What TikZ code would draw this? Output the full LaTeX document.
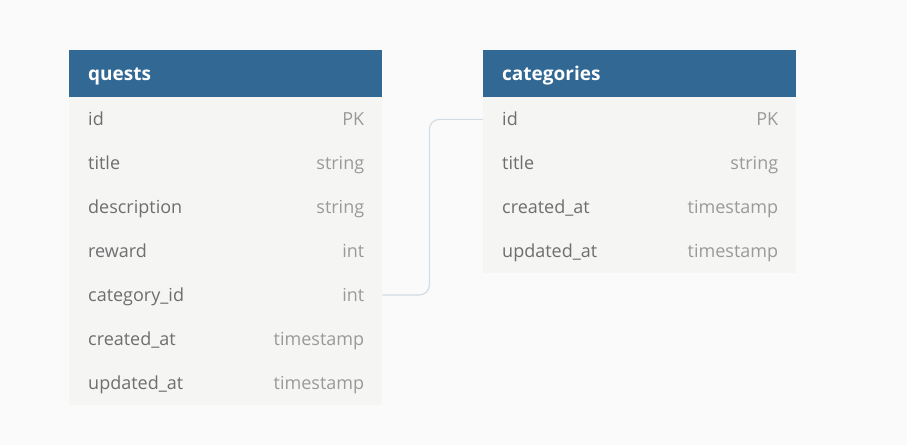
\documentclass[tikz,border=0pt]{standalone}
\usepackage{fontspec}
\setmainfont{Open Sans}
\usetikzlibrary{positioning}

\definecolor{headblue}{HTML}{316894}
\definecolor{bodygray}{HTML}{F5F5F3}
\definecolor{pagegray}{HTML}{FAFAFA}
\definecolor{namegray}{HTML}{6E6E70}
\definecolor{typegray}{HTML}{9A9A9A}
\definecolor{linkgray}{HTML}{D2DCE4}

\begin{document}
\begin{tikzpicture}[x=1pt,
    y=1pt,
    tblhead/.style = {
      fill = headblue,
      text = white,
      font = \bfseries\fontsize{19}{22}\selectfont,
      anchor = north west,
      minimum width = 313pt,
      minimum height = 47pt,
      text width = 275pt,
      text height = 16pt,
      text depth = 2pt,
      inner xsep = 19pt,
      inner ysep = 0pt,
      align = left
    },
    tblrow/.style = {
      minimum width = 313pt,
      minimum height = 43.5pt,
      inner sep = 0pt
    },
    fname/.style = {
      text = namegray,
      font = \fontsize{18}{21}\selectfont,
      text height = 13pt,
      text depth = 4pt,
      anchor = west,
      yshift = -2pt,
      inner sep = 0pt
    },
    ftype/.style = {
      fname,
      text = typegray,
      anchor = east
    },
    link/.style = {
      draw = linkgray,
      line width = 1.2pt,
      rounded corners = 10pt
    }
  ]
  \fill[pagegray] (0,0) rectangle (907,-445);
  \useasboundingbox (0,0) rectangle (907,-445);

  % quests
  \node[tblhead] (q0) at (69,-50) {quests};
  \foreach \f/\t [count=\i, remember=\i as \j (initially 0)] in
    {id/PK, title/string, description/string, reward/int,
     category\_id/int, created\_at/timestamp, updated\_at/timestamp} {
    \node[tblrow, below=0pt of q\j] (q\i) {};
  }
  \fill[bodygray] (q1.north west) rectangle (q7.south east);
  \foreach \f/\t [count=\i] in
    {id/PK, title/string, description/string, reward/int,
     category\_id/int, created\_at/timestamp, updated\_at/timestamp} {
    \node[fname, xshift=19pt] (qn\i) at (q\i.west) {\f};
    \node[ftype, xshift=-18pt] (qt\i) at (q\i.east) {\t};
  }

  % categories
  \node[tblhead] (c0) at (483,-50) {categories};
  \foreach \f/\t [count=\i, remember=\i as \j (initially 0)] in
    {id/PK, title/string, created\_at/timestamp, updated\_at/timestamp} {
    \node[tblrow, below=0pt of c\j] (c\i) {};
  }
  \fill[bodygray] (c1.north west) rectangle (c4.south east);
  \foreach \f/\t [count=\i] in
    {id/PK, title/string, created\_at/timestamp, updated\_at/timestamp} {
    \node[fname, xshift=19pt] (cn\i) at (c\i.west) {\f};
    \node[ftype, xshift=-18pt] (ct\i) at (c\i.east) {\t};
  }

  \draw[link] (q5.east) -- ++(47,0) |- (c1.west);
\end{tikzpicture}
\end{document}
